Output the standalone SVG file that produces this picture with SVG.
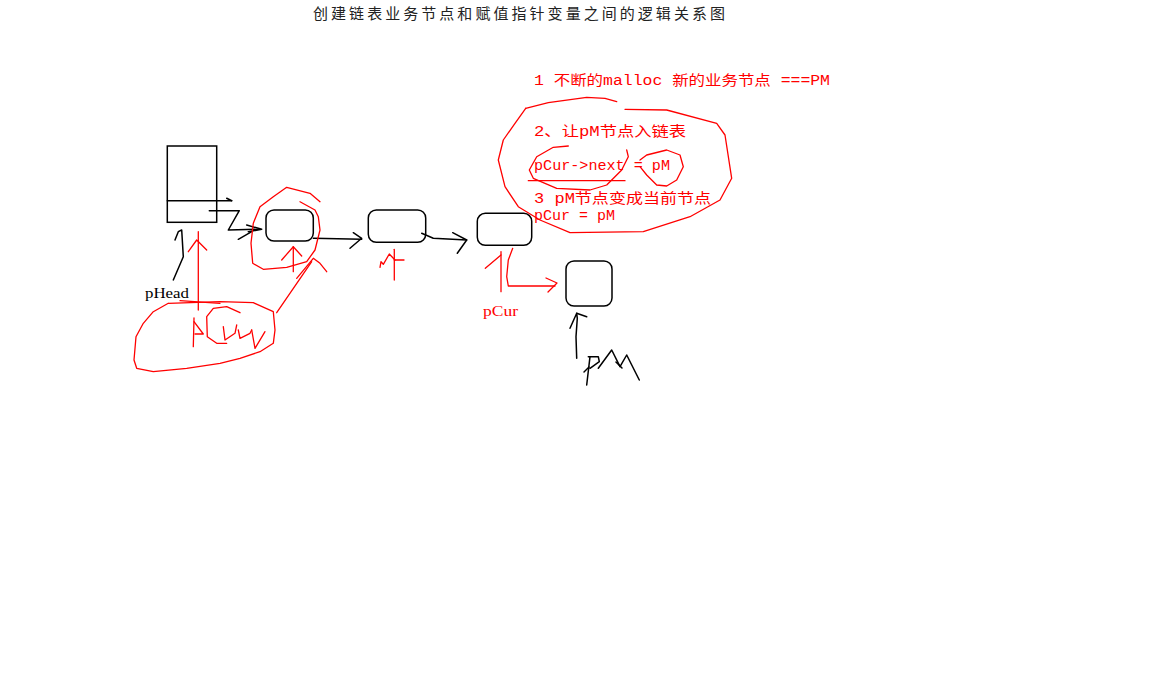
<svg xmlns="http://www.w3.org/2000/svg" width="1173" height="694" viewBox="0 0 1173 694">
<style>
.blk{fill:none;stroke:#000;stroke-width:1.5;stroke-linejoin:round;stroke-linecap:round}
.red{fill:none;stroke:#f00;stroke-width:1.3;stroke-linejoin:round;stroke-linecap:round}
.node{fill:#fff;stroke:#000;stroke-width:1.5}
.note{fill:#f00;font-family:"Liberation Mono","Noto Sans CJK SC",monospace;font-size:14px}
.lbl{font-family:"Liberation Serif","DejaVu Serif",serif;font-size:14px}
.title{fill:#222;font-family:"Noto Sans CJK SC",sans-serif;font-size:15px}
</style>
<rect width="1173" height="694" fill="#fff"/>
<text class="title" x="313" y="19" textLength="412" lengthAdjust="spacing">创建链表业务节点和赋值指针变量之间的逻辑关系图</text>

<g id="notes">
<text class="note" x="534" y="85" textLength="296" lengthAdjust="spacingAndGlyphs">1 不断的malloc 新的业务节点 ===PM</text>
<text class="note" x="534" y="136" textLength="152" lengthAdjust="spacingAndGlyphs">2、让pM节点入链表</text>
<text class="note" x="534" y="170" textLength="136" lengthAdjust="spacingAndGlyphs">pCur-&gt;next = pM</text>
<text class="note" x="534" y="203" textLength="177" lengthAdjust="spacingAndGlyphs">3 pM节点变成当前节点</text>
<text class="note" x="534" y="220" textLength="81" lengthAdjust="spacingAndGlyphs">pCur = pM</text>
<polyline class="red" points="525.7,108.3 548.3,102.7 586.7,97.3 605,98.3 616.7,101.7"/>
<polyline class="red" points="625,109.3 666.7,110 716.7,123.3 725,135 731.7,178.3 720,200 690,216.7 643.3,231.7 570,232.7 540,220 518.3,206.7 505,186.7 498.3,160 503.3,140 515,123.3 525.7,108.3"/>
<polyline class="red" points="568.3,146 553.3,147.3 536.7,156.7 529.3,170 533.3,178.3 556.7,188.3 590,190 606.7,185 621.7,170 628.3,156.7 626.7,150"/>
<line class="red" x1="528.3" y1="180.7" x2="625" y2="180.7"/>
<polyline class="red" points="640,160 646.7,155 666.7,150 680,155 683.3,166.7 676.7,180 666.7,186 656.7,185 646.7,175 640,166.7"/>
</g>

<g id="pHead">
<rect class="node" x="167.3" y="146" width="49.4" height="76.3"/>
<line class="blk" x1="167.3" y1="200.7" x2="231.7" y2="200.7"/>
<polyline class="blk" points="226.7,198.3 231.7,200.7"/>
<text class="lbl" x="145" y="298" textLength="44" lengthAdjust="spacingAndGlyphs">pHead</text>
<polyline class="blk" points="173.3,280 183.3,256.7 181.7,230 178.3,231.7 175,240"/>
</g>

<g id="node1"><rect class="node" x="266" y="210" width="47.3" height="31" rx="8"/></g>
<g id="node2"><rect class="node" x="368.3" y="210" width="57.4" height="32.3" rx="8"/></g>
<g id="node3"><rect class="node" x="477.3" y="213.3" width="54.4" height="32" rx="8"/></g>
<g id="nodePM"><rect class="node" x="566" y="261" width="46" height="45" rx="8"/></g>

<g id="connectors">
<polyline class="blk" points="209.3,210.7 239.3,210.7 228.3,230 258.3,229.3"/>
<polyline class="blk" points="246.7,225 261.7,229.3 248.3,231.7"/>
<line class="blk" x1="238.3" y1="239.3" x2="251.7" y2="231.7"/>
<polyline class="blk" points="313.3,238.3 361.7,239.3"/>
<polyline class="blk" points="353.3,232.7 361.7,238.3 350,248.3"/>
<polyline class="blk" points="421.7,233.3 433.3,238.3 466.7,240"/>
<polyline class="blk" points="452.7,232.7 466.7,240 457.3,253.3"/>
<polyline class="red" points="512.7,248.3 508.3,260 506.7,276.7 508.3,286 555,286"/>
<polyline class="red" points="546,278 557,283 548,292"/>
<line class="red" x1="501" y1="251.7" x2="501" y2="291.7"/>
<line class="red" x1="485.3" y1="268.3" x2="501" y2="255"/>
<text class="lbl" x="483" y="316" fill="#f00" textLength="35" lengthAdjust="spacingAndGlyphs">pCur</text>
<polyline class="blk" points="576.7,358.3 576,336.7 577.3,318.3 576.7,313.3 570,328.3"/>
<line class="blk" x1="576.7" y1="313.3" x2="586.7" y2="316.7"/>
<polyline class="blk" points="590,356.7 586.7,385"/>
<polyline class="blk" points="588.3,356.7 598.3,356.7 599.3,361.7 590,368.3"/>
<polyline class="blk" points="584,372 589,367"/>
<polyline class="blk" points="598.3,368.3 611.7,350 620,366.7 626.7,355 639.3,380"/>
<polyline class="blk" points="616,362 622,368"/>
</g>

<g id="annotations">
<polyline class="red" points="320,201.7 310,193.3 286.7,187.3 273.3,196.7 260,206.7 253.3,223.3 251,243.3 252.7,263.3 263.3,269.3 286.7,267.3 306.7,261.7 315,250 320,230 318.3,216.7 315,210 300,201.7"/>
<line class="red" x1="293.3" y1="246.7" x2="293.3" y2="271.7"/>
<polyline class="red" points="281.7,260 293.3,246.7 301.7,256"/>
<polyline class="red" points="296.7,278.3 313.3,258.3 320,263.3 326.7,271.7"/>
<polyline class="red" points="276.7,312.7 311.7,261.7"/>
<line class="red" x1="394.3" y1="249.3" x2="394.3" y2="280"/>
<line class="red" x1="394.3" y1="260" x2="404" y2="260"/>
<polyline class="red" points="380,267.3 381,261.7 383.3,264.3 389.3,254 395,260"/>
<line class="red" x1="198.3" y1="231.7" x2="198.3" y2="310"/>
<polyline class="red" points="188.3,251.7 196.7,240 206.7,250"/>
<polyline class="red" points="180,300.7 220,303.3"/>
<polyline class="red" points="168.3,303.3 220,301.7 253.3,302.7 273.3,311.7 275,330 273.3,343.3 260,351.7 240,358.3 220,363.3 186.7,368.3 153.3,371.7 136.7,368.3 134,360 136,336.7 143.3,323.3 153.3,311.7 168.3,303.3"/>
<polyline class="red" points="194,318 193.3,346.7"/>
<polyline class="red" points="194,321.7 203.3,334 195,334"/>
<polyline class="red" points="240,312.7 226.7,306.7 213.3,308.3 206.7,316.7 207.3,336.7 216.7,343.3 226.7,343.3"/>
<polyline class="red" points="223.3,326.7 225,340 235,333.3 236.7,325"/>
<polyline class="red" points="238.3,330 240,338.3 250,333.3 251.7,330"/>
<polyline class="red" points="251.7,330 255,348.3 265,331.7"/>
</g>
</svg>
